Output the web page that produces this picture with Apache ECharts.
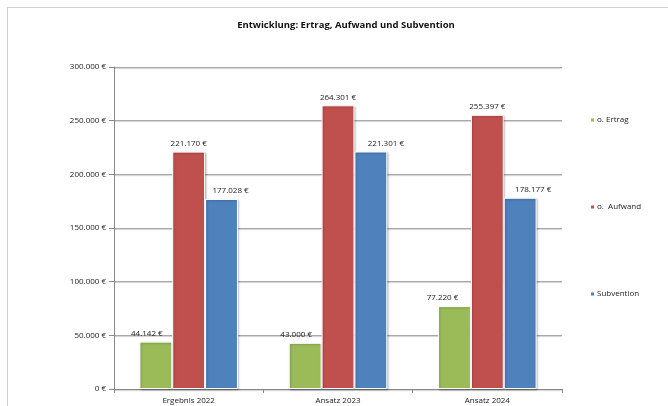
<!DOCTYPE html>
<html><head><meta charset="utf-8">
<script src="https://cdn.jsdelivr.net/npm/echarts@6/dist/echarts.min.js"></script>
<style>
html,body{margin:0;padding:0;background:#fff;}
#frame{position:absolute;left:7px;top:7px;width:700px;height:450px;border-top:1px solid #d0d0d0;border-left:1px solid #d0d0d0;}
#c{position:absolute;left:0;top:0;width:668px;height:406px;}
</style></head>
<body><div id="frame"></div><div id="c"></div>
<script>
const categories = ['Ergebnis 2022', 'Ansatz 2023', 'Ansatz 2024'];
const seriesNames = ['o. Ertrag', 'o.  Aufwand', 'Subvention'];
const ertrag = [44142, 43000, 77220];
const aufwand = [221170, 264301, 255397];
const subvention = [177028, 221301, 178177];
const colors = ['#9BBB59', '#C0504D', '#4F81BD'];
// horizontal label shifts (style only), as placed in the original
const labelShift = [[-9, -9, -12], [0, 0, 0], [9, 15, 13]];

const fmt = v => v.toLocaleString('de-DE') + ' €';
const font = '"Open Sans", "Noto Sans", sans-serif';
const chart = echarts.init(document.getElementById('c'));
const mk = (idx, data) => ({
  name: seriesNames[idx], type: 'bar',
  data: data.map((v, i) => ({ value: v, label: { offset: [labelShift[idx][i], 0] } })),
  barGap: '0%', barCategoryGap: '34%',
  itemStyle: { color: colors[idx], borderColor: '#ffffff', borderWidth: 1, shadowColor: 'rgba(0,0,0,0.25)', shadowBlur: 2, shadowOffsetX: 1, shadowOffsetY: 1 },
  label: { show: true, position: 'top', distance: 4, formatter: p => fmt(p.value), fontSize: 8, color: '#222', fontFamily: font },
  emphasis: { disabled: true }
});
chart.setOption({
  animation: false,
  title: { text: 'Entwicklung: Ertrag, Aufwand und Subvention', left: 341, textAlign: 'center', top: 15,
    textStyle: { fontSize: 9.5, fontWeight: 'bold', color: '#111', fontFamily: font } },
  legend: {
    orient: 'vertical', left: 584, top: 111, itemGap: 79, itemWidth: 5, itemHeight: 5, icon: 'rect',
    textStyle: { fontSize: 8, color: '#222', fontFamily: font, padding: [0, 0, 0, -3] }, data: seriesNames
  },
  grid: { left: 114, right: 106, top: 67, bottom: 17, containLabel: false },
  xAxis: {
    type: 'category', data: categories,
    axisLine: { lineStyle: { color: '#888' } },
    axisTick: { show: true, length: 4, lineStyle: { color: '#888' } },
    axisLabel: { fontSize: 8, color: '#222', margin: 8, fontFamily: font }
  },
  yAxis: {
    type: 'value', min: 0, max: 300000, interval: 50000,
    axisLine: { show: true, lineStyle: { color: '#888' } },
    axisTick: { show: true, length: 5, inside: false, lineStyle: { color: '#888' } },
    axisLabel: { fontSize: 8, color: '#222', margin: 8, fontFamily: font, formatter: v => fmt(v) },
    splitLine: { lineStyle: { color: '#a8a8a8', shadowColor: 'rgba(0,0,0,0.2)', shadowBlur: 1, shadowOffsetY: 1 } }
  },
  series: [mk(0, ertrag), mk(1, aufwand), mk(2, subvention)]
});
</script></body></html>
